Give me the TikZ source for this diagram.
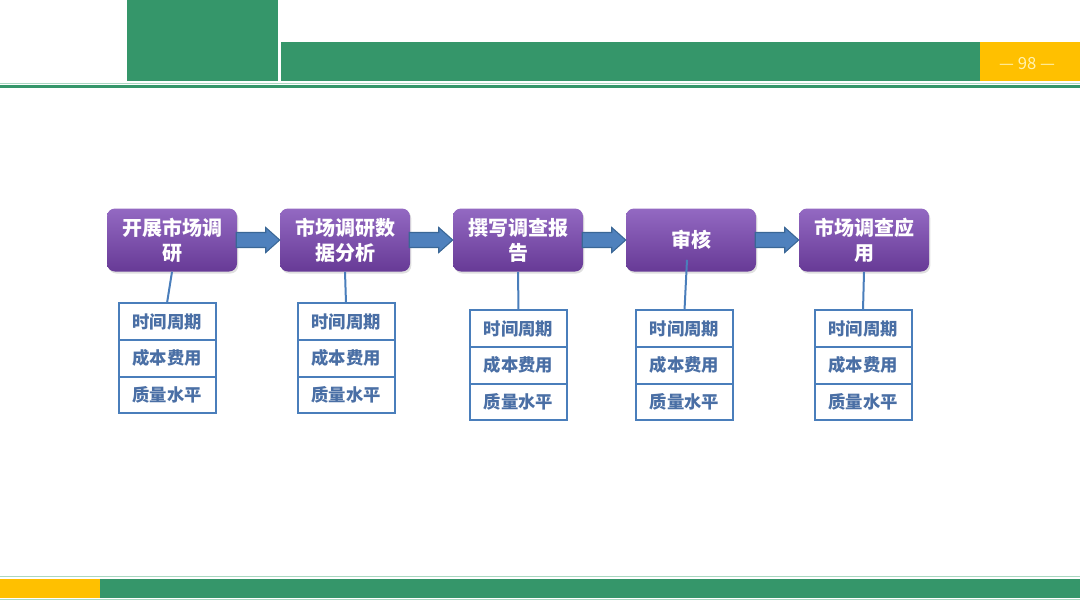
\documentclass[tikz,border=0pt]{standalone}
\usepackage{fontspec}
\newfontfamily\cjk{Noto Sans CJK SC}
\usetikzlibrary{positioning}
\usetikzlibrary{calc}
\usetikzlibrary{shadows}

\definecolor{barGreen}{HTML}{35966A}
\definecolor{paleGreen}{HTML}{A9D8C1}
\definecolor{barYellow}{HTML}{FFC000}
\definecolor{pageText}{HTML}{FFF2B0}
\definecolor{stageTop}{HTML}{9369C2}
\definecolor{stageBottom}{HTML}{673A96}
\definecolor{flowBlue}{HTML}{4F81BD}
\definecolor{flowEdge}{HTML}{3A6796}
\definecolor{itemEdge}{HTML}{4A7EBB}
\definecolor{itemText}{HTML}{4A6FA5}

\tikzset{
  stage/.style={rounded corners=6pt, top color=stageTop, bottom color=stageBottom,
    minimum width=97.5pt, minimum height=47.25pt, inner sep=0pt, align=center,
    text=white, font=\cjk\bfseries\fontsize{15}{18.75}\selectfont,
    drop shadow={opacity=0.25, shadow xshift=1pt, shadow yshift=-1.5pt}},
  item/.style={draw=itemEdge, line width=1.5pt, fill=white, outer sep=0pt,
    minimum width=72.75pt, minimum height=27.5pt, inner sep=0pt,
    text=itemText, font=\cjk\bfseries\fontsize{13}{15}\selectfont},
  link/.style={draw=itemEdge, line width=1.5pt},
  flow/.style={fill=flowBlue, draw=flowEdge, line width=0.8pt, line join=miter}
}

\begin{document}
\begin{tikzpicture}[x=0.75pt, y=-0.75pt]
  \useasboundingbox (0,0) rectangle (1080,608);

  % header bars
  \fill[barGreen] (127,0) rectangle (278,81);
  \fill[barGreen] (281,42) rectangle (980,81);
  \fill[barYellow] (980,42) rectangle (1080,81);
  \node[text=pageText, font=\cjk\fontsize{12.5}{14}\selectfont] (pagenum) at (1027,64) {— 98 —};
  \draw[paleGreen, line width=0.75pt] (0,83.5) -- (1080,83.5);
  \draw[barGreen, line width=2.25pt] (0,86.5) -- (1080,86.5);

  % footer bars
  \draw[paleGreen, line width=0.75pt] (0,576) -- (1080,576);
  \fill[barYellow] (0,579) rectangle (100,598);
  \fill[barGreen] (100,579) rectangle (1080,598);
  \draw[paleGreen, line width=0.75pt] (0,599.5) -- (1080,599.5);

  % stages
  \node[stage] (s1) at (172,240) {开展市场调\\研};
  \node[stage] (s2) at (345,240) {市场调研数\\据分析};
  \node[stage] (s3) at (518,240) {撰写调查报\\告};
  \node[stage] (s4) at (691,240) {审核};
  \node[stage] (s5) at (864,240) {市场调查应\\用};

  % block arrows between stages
  \foreach \a/\b in {1/2, 2/3, 3/4, 4/5} {
    \draw[flow] ($(s\a.east)+(-1,-7.5)$) -- ($(s\b.west)+(-14,-7.5)$)
      -- ($(s\b.west)+(-14,-12.5)$) -- (s\b.west) -- ($(s\b.west)+(-14,12.5)$)
      -- ($(s\b.west)+(-14,7.5)$) -- ($(s\a.east)+(-1,7.5)$) -- cycle;
  }

  % criteria tables
  \foreach \i/\tx/\ty/\dx/\dy in {1/167/321.5/0/0, 2/346/321.5/0/0, 3/518.5/328.5/0/0,
                                  4/684.5/328.5/-4/-12, 5/863/328.5/0/0} {
    \node[item] (time\i) at (\tx,\ty) {时间周期};
    \node[item, below=0pt of time\i] (cost\i) {成本费用};
    \node[item, below=0pt of cost\i] (qual\i) {质量水平};
    \draw[link] ($(s\i.south)+(\dx,\dy)$) -- (time\i.north);
  }

\end{tikzpicture}
\end{document}
